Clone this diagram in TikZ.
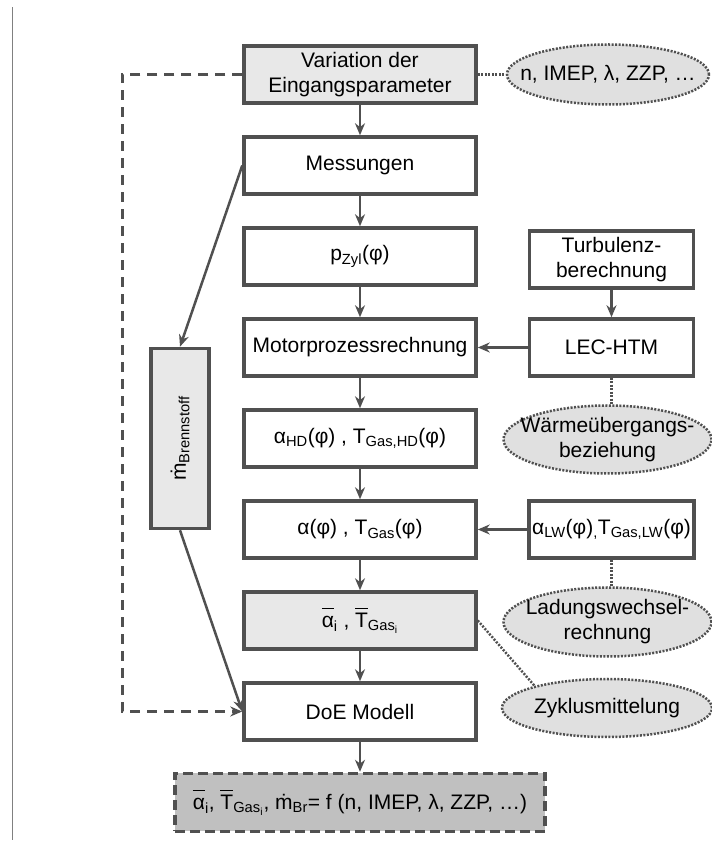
\documentclass[tikz,border=0pt]{standalone}
\usepackage{fontspec}
\setmainfont{Liberation Sans}
\usetikzlibrary{shapes.geometric,arrows.meta}
\definecolor{linegray}{HTML}{505050}
\definecolor{boxgray}{HTML}{E8E8E8}
\definecolor{ovalgray}{HTML}{E0E0E0}
\definecolor{resgray}{HTML}{C0C0C0}
\begin{document}
\begin{tikzpicture}[x=1pt, y=1pt, node distance=91pt, font=\fontsize{21}{25}\selectfont, >={Stealth[length=12pt,width=10pt]}]
\tikzstyle{block} = [rectangle, minimum width=232pt, minimum height=57pt, text centered, align=center, draw=linegray, line width=3.5pt, fill=white]
\tikzstyle{greyblock} = [block, fill=boxgray]
\tikzstyle{sideblock} = [block, minimum width=164pt]
\tikzstyle{resblock} = [block, minimum width=370pt, minimum height=58pt, fill=resgray, dash pattern=on 10pt off 5pt]
\tikzstyle{oval} = [ellipse, draw=linegray, line width=2.5pt, dash pattern=on 2pt off 1.5pt, fill=ovalgray, align=center, inner sep=0pt]
\tikzstyle{link} = [linegray, line width=2.5pt]
\tikzstyle{hint} = [linegray, line width=2.5pt, dash pattern=on 2pt off 1.5pt]
\useasboundingbox (0,0) rectangle (712,841);
\draw [gray, line width=1pt] (12,1) -- (12,834);
% main chain
\node (var)[greyblock] at (360,766.5) {Variation der\\Eingangsparameter};
\node (mess)[block, below of=var] {Messungen};
\node (pzyl)[block, below of=mess] {p\textsubscript{Zyl}(φ)};
\node (motor)[block, below of=pzyl] {Motorprozessrechnung};
\node (ahd)[block, below of=motor] {α\textsubscript{HD}(φ) , T\textsubscript{Gas,HD}(φ)};
\node (agas)[block, below of=ahd] {α(φ) , T\textsubscript{Gas}(φ)};
\node (mittel)[greyblock, below of=agas] {$\overline{\mbox{\rule{0pt}{0.85em}α}}$\textsubscript{i} , $\overline{\mbox{\rule{0pt}{0.85em}T}}$\textsubscript{Gas\textsubscript{i}}};
\node (doe)[block, below of=mittel] {DoE Modell};
\node (result)[resblock, below of=doe] {$\overline{\mbox{\rule{0pt}{0.85em}α}}$\textsubscript{i}, $\overline{\mbox{\rule{0pt}{0.85em}T}}$\textsubscript{Gas\textsubscript{i}}, \.m\textsubscript{Br}= f (n, IMEP, λ, ZZP, …)};
% side blocks
\node (lec)[sideblock, right of=motor, node distance=251.5pt] {LEC-HTM};
\node (turb)[sideblock, above of=lec, node distance=88pt] {Turbulenz-\\berechnung};
\node (alw)[sideblock, right of=agas, node distance=251.5pt] {α\textsubscript{LW}(φ)\textsubscript{,}T\textsubscript{Gas,LW}(φ)};
\node (fuel)[greyblock, left of=ahd, node distance=180pt, minimum width=58pt, minimum height=180pt] {\rotatebox{90}{\.m\textsubscript{Brennstoff}}};
% notes
\node (param)[oval, right of=var, node distance=248pt, minimum width=202pt, minimum height=60pt] {\makebox[0pt]{n, IMEP, λ, ZZP, …}};
\node (wue)[oval, below of=lec, node distance=92pt, xshift=-4pt, minimum width=208pt, minimum height=68pt] {\makebox[0pt]{Wärmeübergangs-}\\\makebox[0pt]{beziehung}};
\node (lwr)[oval, below of=alw, node distance=92.5pt, xshift=-4pt, minimum width=208pt, minimum height=69pt] {\makebox[0pt]{Ladungswechsel-}\\\makebox[0pt]{rechnung}};
\node (zyk)[oval, right of=doe, node distance=247pt, yshift=3.5pt, minimum width=210pt, minimum height=58pt] {\makebox[0pt]{Zyklusmittelung}};
% connectors
\draw [link, ->] (var) -- (mess);
\draw [link, ->] (mess) -- (pzyl);
\draw [link, ->] (pzyl) -- (motor);
\draw [link, ->] (motor) -- (ahd);
\draw [link, ->] (ahd) -- (agas);
\draw [link, ->] (agas) -- (mittel);
\draw [link, ->] (mittel) -- (doe);
\draw [link, ->] (doe) -- (result);
\draw [link, ->] (turb) -- (lec);
\draw [link, ->] (lec) -- (motor);
\draw [link, ->] (alw) -- (agas);
\draw [link, ->] (mess.west) -- (fuel.north);
\draw [link, ->] (fuel.south) -- (doe.west);
\draw [link, line width=2.8pt, dash pattern=on 10pt off 7pt, ->] (var.west) -- ++(-120,0) |- (doe.west);
\draw [hint] (var) -- (param);
\draw [hint] (lec.south) -- (lec.south |- wue.north);
\draw [hint] (alw.south) -- (alw.south |- lwr.north);
\draw [hint] (mittel.east) -- (zyk.163);
\end{tikzpicture}
\end{document}
